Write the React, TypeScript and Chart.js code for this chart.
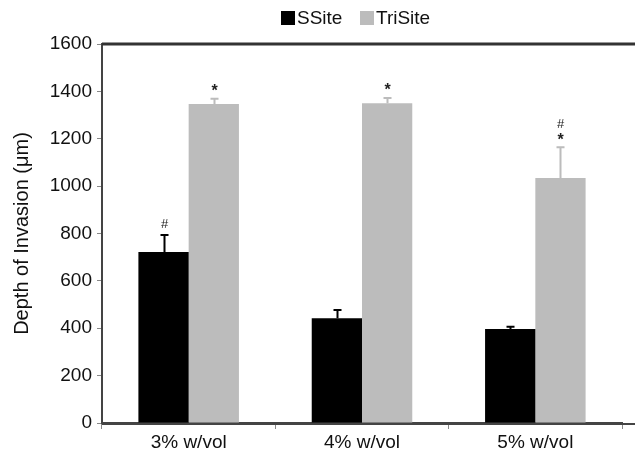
import React, { useEffect, useRef } from "react";
import { Chart, registerables } from "chart.js";

Chart.register(...registerables);

const categories = ["3% w/vol", "4% w/vol", "5% w/vol"];
const ssiteValues = [722, 442, 397];
const ssiteErrors = [72, 35, 9];
const trisiteValues = [1347, 1350, 1034];
const trisiteErrors = [22, 22, 130];
const ssiteMarks = [["#"], [], []];
const trisiteMarks = [["*"], ["*"], ["#", "*"]];
const yTicks = [0, 200, 400, 600, 800, 1000, 1200, 1400, 1600];

const FONT = "'Liberation Sans', Arial, sans-serif";
const GRAY = "#bcbcbc";

const errorPlugin = {
  id: "errorbars",
  afterDatasetsDraw(chart: any) {
    const ctx = chart.ctx;
    const y = chart.scales.y;
    const errs = [ssiteErrors, trisiteErrors];
    const marks = [ssiteMarks, trisiteMarks];
    const colors = ["#000", GRAY];
    ctx.save();
    for (let d = 0; d < 2; d++) {
      const meta = chart.getDatasetMeta(d);
      const vals = chart.data.datasets[d].data as number[];
      meta.data.forEach((bar: any, i: number) => {
        const top = y.getPixelForValue(vals[i] + errs[d][i]);
        const x = Math.round(bar.x) + 0.5;
        ctx.strokeStyle = colors[d];
        ctx.lineWidth = 2;
        ctx.beginPath();
        ctx.moveTo(x, bar.y);
        ctx.lineTo(x, top);
        ctx.moveTo(x - 4, top);
        ctx.lineTo(x + 4, top);
        ctx.stroke();
        ctx.fillStyle = "#222";
        ctx.textAlign = "center";
        ctx.textBaseline = "bottom";
        const m = marks[d][i];
        let yy = top - 4;
        for (let k = m.length - 1; k >= 0; k--) {
          ctx.font = m[k] === "*" ? `bold 16px ${FONT}` : `13px ${FONT}`;
          ctx.fillText(m[k], x, yy + (m[k] === "*" ? 5 : 0));
          yy -= 12;
        }
      });
    }
    const a = chart.chartArea;
    ctx.strokeStyle = "#333";
    ctx.lineWidth = 3;
    ctx.beginPath();
    ctx.moveTo(a.left, a.top);
    ctx.lineTo(chart.width, a.top);
    ctx.stroke();
    ctx.lineWidth = 2;
    ctx.strokeStyle = "#444";
    ctx.beginPath();
    ctx.moveTo(a.left, a.bottom + 1);
    ctx.lineTo(chart.width, a.bottom + 1);
    ctx.stroke();
    ctx.font = `19px ${FONT}`;
    ctx.textBaseline = "middle";
    ctx.textAlign = "left";
    const ly = 18;
    ctx.fillStyle = "#000";
    ctx.fillRect(281, ly - 7, 14, 14);
    ctx.fillStyle = "#111";
    ctx.fillText("SSite", 297, ly + 1);
    ctx.fillStyle = GRAY;
    ctx.fillRect(360, ly - 7, 14, 14);
    ctx.fillStyle = "#111";
    ctx.fillText("TriSite", 376, ly + 1);
    ctx.restore();
  },
};

export default function App() {
  const ref = useRef<HTMLCanvasElement>(null);
  useEffect(() => {
    const chart = new Chart(ref.current!, {
      type: "bar",
      data: {
        labels: categories,
        datasets: [
          { label: "SSite", data: ssiteValues, backgroundColor: "#000", borderWidth: 0 },
          { label: "TriSite", data: trisiteValues, backgroundColor: GRAY, borderWidth: 0 },
        ],
      },
      options: {
        animation: false,
        responsive: false,
        maintainAspectRatio: false,
        layout: { padding: { top: 44, right: 13, left: 0, bottom: 0 } },
        datasets: { bar: { categoryPercentage: 0.58, barPercentage: 1 } },
        plugins: { legend: { display: false }, tooltip: { enabled: false } },
        scales: {
          x: {
            grid: { offset: true, drawOnChartArea: false, tickLength: 6, color: "#888", tickWidth: 1 },
            border: { color: "#444", width: 2 },
            ticks: { color: "#111", font: { size: 19, family: FONT }, padding: 2 },
            afterFit: (s: any) => { s.height = 32; },
          },
          y: {
            min: 0,
            max: 1600,
            afterBuildTicks: (s: any) => { s.ticks = yTicks.map((v) => ({ value: v })); },
            grid: { drawOnChartArea: false, tickLength: 5, color: "#888", tickWidth: 1 },
            border: { color: "#444", width: 2 },
            ticks: { color: "#111", font: { size: 19, family: FONT }, padding: 5, callback: (v: any) => String(v) },
            title: { display: true, text: "Depth of Invasion (μm)", color: "#111", font: { size: 20, family: FONT }, padding: { top: 10, bottom: 0 } },
            afterFit: (s: any) => { s.width = 102; },
          },
        },
      },
      plugins: [errorPlugin],
    });
    return () => chart.destroy();
  }, []);
  return (
    <div style={{ position: "fixed", left: 0, top: 0, width: 635, height: 455, background: "#fff" }}>
      <canvas ref={ref} width={635} height={455} />
    </div>
  );
}
